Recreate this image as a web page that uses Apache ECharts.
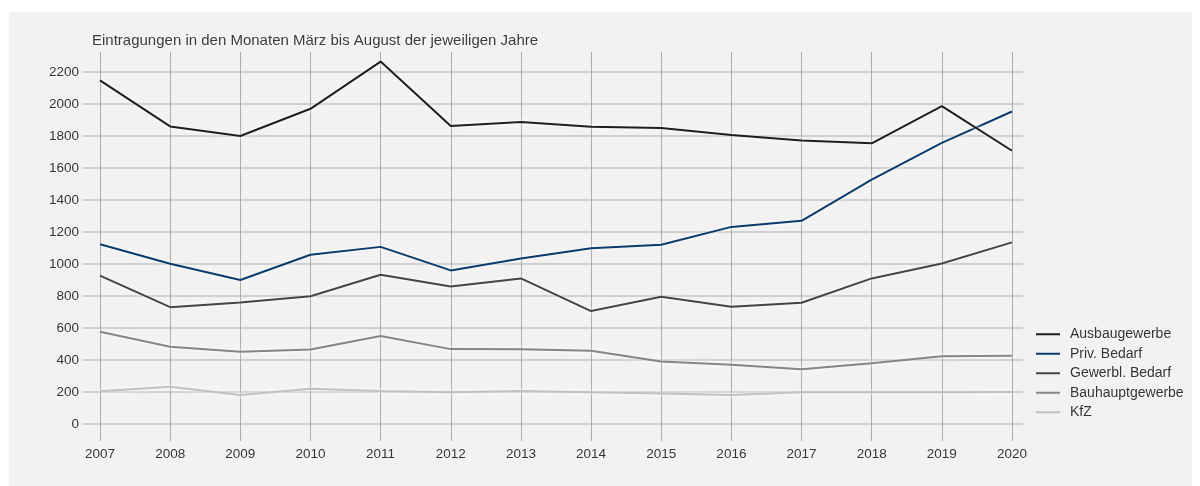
<!DOCTYPE html>
<html>
<head>
<meta charset="utf-8">
<script src="https://cdn.jsdelivr.net/npm/echarts@6/dist/echarts.min.js"></script>
<style>
  html, body { margin: 0; padding: 0; background: #ffffff; }
  #bg { position: absolute; left: 9px; top: 12px; width: 1183px; height: 474px; background: #f2f2f2; }
  #chart { position: absolute; left: 0; top: 0; width: 1200px; height: 486px; }
</style>
</head>
<body>
<div id="bg"></div>
<div id="chart"></div>
<script>
const years = ['2007','2008','2009','2010','2011','2012','2013','2014','2015','2016','2017','2018','2019','2020'];
const ausbaugewerbe = [2148, 1860, 1800, 1970, 2265, 1862, 1887, 1858, 1850, 1806, 1772, 1754, 1987, 1708];
const privBedarf = [1123, 1002, 900, 1058, 1107, 960, 1035, 1098, 1120, 1232, 1270, 1527, 1757, 1953];
const gewerblBedarf = [927, 730, 760, 798, 933, 859, 910, 706, 795, 733, 758, 910, 1003, 1135];
const bauhauptgewerbe = [577, 483, 452, 465, 550, 468, 467, 458, 390, 371, 342, 379, 423, 427];
const kfz = [204, 233, 181, 221, 206, 198, 207, 198, 191, 182, 198, 198, 198, 200];
const yTicks = { min: 0, max: 2200, interval: 200 };

const FONT = '"Liberation Sans", Arial, sans-serif';
const seriesDefs = [
  { name: 'Ausbaugewerbe', data: ausbaugewerbe, color: '#1e1e1e' },
  { name: 'Priv. Bedarf', data: privBedarf, color: '#0b3b6c' },
  { name: 'Gewerbl. Bedarf', data: gewerblBedarf, color: '#454545' },
  { name: 'Bauhauptgewerbe', data: bauhauptgewerbe, color: '#858585' },
  { name: 'KfZ', data: kfz, color: '#c0c0c0' }
];

const chart = echarts.init(document.getElementById('chart'), null, { renderer: 'canvas' });
chart.setOption({
  backgroundColor: 'transparent',
  animation: false,
  textStyle: { fontFamily: FONT },
  title: {
    text: 'Eintragungen in den Monaten März bis August der jeweiligen Jahre',
    left: 92, top: 33, padding: 0,
    textStyle: { fontFamily: FONT, fontSize: 15, fontWeight: 'normal', color: '#3a3a3a',
      textShadowColor: '#ffffff', textShadowBlur: 3 }
  },
  legend: {
    orient: 'vertical', left: 1036, top: 326, padding: 0,
    icon: 'rect', itemWidth: 24, itemHeight: 2, itemGap: 3,
    textStyle: { fontFamily: FONT, fontSize: 14, color: '#333', padding: [0, 0, 0, 5], lineHeight: 16.5,
      textShadowColor: '#ffffff', textShadowBlur: 2 },
    data: seriesDefs.map(s => s.name)
  },
  grid: [
    { left: 100, right: 188, top: 52, bottom: 45 },
    { left: 83, right: 177, top: 72, bottom: 62 }
  ],
  xAxis: [
    {
      type: 'category', gridIndex: 0, data: years, boundaryGap: false,
      axisLine: { show: false }, axisTick: { show: false },
      axisLabel: { margin: 6, fontSize: 13.5, color: '#333', fontFamily: FONT,
        textShadowColor: '#ffffff', textShadowBlur: 2 },
      splitLine: { show: true, lineStyle: { color: '#ababab', width: 1 } },
      z: 3
    },
    { type: 'value', gridIndex: 1, show: false }
  ],
  yAxis: [
    { type: 'value', gridIndex: 0, min: -106.25, max: 2325, show: false, splitLine: { show: false } },
    {
      type: 'value', gridIndex: 1, min: yTicks.min, max: yTicks.max, interval: yTicks.interval,
      axisLine: { show: false }, axisTick: { show: false },
      axisLabel: { margin: 4, fontSize: 13.5, color: '#333', fontFamily: FONT,
        formatter: v => String(v),
        textShadowColor: '#ffffff', textShadowBlur: 2 },
      splitLine: { show: true, lineStyle: { color: '#cfcfcf', width: 2 } }
    }
  ],
  series: seriesDefs.map((s, i) => ({
    name: s.name, type: 'line', xAxisIndex: 0, yAxisIndex: 0,
    data: s.data, symbol: 'none', color: s.color, z: 10 - i,
    lineStyle: { color: s.color, width: 2, shadowColor: '#ffffff', shadowBlur: 4 },
    emphasis: { disabled: true }
  }))
});
</script>
</body>
</html>
